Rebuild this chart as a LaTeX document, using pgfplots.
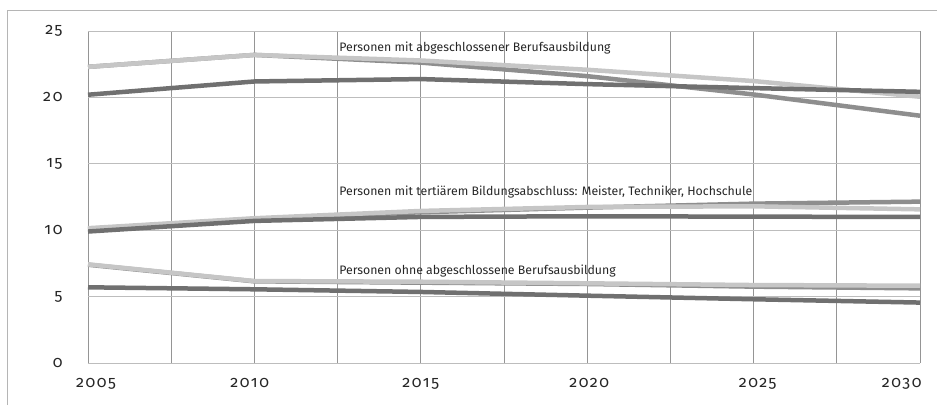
\documentclass[border=0pt]{standalone}
\usepackage{fontspec}
\setmainfont{Fira Sans}[Numbers=OldStyle]
\usepackage{pgfplots}
\pgfplotsset{compat=1.18}
\definecolor{cdark}{HTML}{707070}
\definecolor{cmed}{HTML}{8E8E8E}
\definecolor{clight}{HTML}{C6C6C6}
\definecolor{gridv}{HTML}{959595}
\definecolor{gridh}{HTML}{BDBDBD}
\definecolor{frame}{HTML}{B5B5B5}
\begin{document}
\begin{tikzpicture}
\useasboundingbox (0,0) rectangle (937pt,405pt);
\draw[frame, line width=1pt] (7pt,0pt) -- (7pt,394pt) -- (940pt,394pt);
\begin{axis}[
  at={(88pt,42pt)}, anchor=south west,
  scale only axis, width=832pt, height=332pt,
  xmin=2005, xmax=2030, ymin=0, ymax=25,
  axis line style={draw=none},
  xtick={2005.24,2009.86,2015,2020.06,2025.12,2029.45},
  xticklabels={2005,2010,2015,2020,2025,2030},
  minor xtick={2005,2007.5,...,2030},
  ytick={0,5,10,15,20,25},
  xmajorgrids=false, xminorgrids=true, ymajorgrids=true,
  minor grid style={gridv, line width=0.9pt},
  major grid style={gridh, line width=0.9pt},
  major tick length=0pt, minor tick length=0pt,
  tick style={draw=none},
  /pgf/number format/assume math mode=true,
  ticklabel style={font=\fontsize{16}{18}\selectfont\addfontfeature{LetterSpace=10}, text=black!85},
  xticklabel style={yshift=-12pt},
  yticklabel style={xshift=-22pt},
  clip=false,
]
% group 1: Personen mit abgeschlossener Berufsausbildung
\addplot[cmed, line width=4.5pt] coordinates {(2005,22.3) (2010,23.2) (2015,22.62) (2020,21.6) (2025,20.22) (2030,18.62)};
\addplot[clight, line width=4.5pt] coordinates {(2005,22.3) (2010,23.2) (2015,22.78) (2020,22.08) (2025,21.23) (2030,20.05)};
\addplot[cdark, line width=4.5pt] coordinates {(2005,20.2) (2010,21.2) (2015,21.38) (2020,21.0) (2025,20.7) (2030,20.42)};
% group 2: tertiaerer Bildungsabschluss
\addplot[cmed, line width=4.5pt] coordinates {(2005,10.1) (2010,10.85) (2015,11.35) (2020,11.7) (2025,12.0) (2030,12.15)};
\addplot[clight, line width=4.5pt] coordinates {(2005,10.15) (2010,10.9) (2015,11.45) (2020,11.75) (2025,11.8) (2030,11.57)};
\addplot[cdark, line width=4.5pt] coordinates {(2005,9.9) (2010,10.7) (2015,11.0) (2020,11.05) (2025,11.02) (2030,11.0)};
% group 3: ohne abgeschlossene Berufsausbildung
\addplot[cmed, line width=4.5pt] coordinates {(2005,7.4) (2010,6.15) (2015,6.05) (2020,5.95) (2025,5.75) (2030,5.62)};
\addplot[clight, line width=4.5pt] coordinates {(2005,7.43) (2010,6.17) (2015,6.12) (2020,6.0) (2025,5.87) (2030,5.82)};
\addplot[cdark, line width=4.5pt] coordinates {(2005,5.7) (2010,5.55) (2015,5.35) (2020,5.07) (2025,4.8) (2030,4.55)};
\node[anchor=base west, inner sep=1.5pt, font=\fontsize{12.3}{14}\selectfont, text=black!85] at (axis cs:2012.5,23.44) {Personen mit abgeschlossener Berufsausbildung};
\node[anchor=base west, inner sep=1.5pt, font=\fontsize{12.3}{14}\selectfont, text=black!85] at (axis cs:2012.5,12.6) {Personen mit tertiärem Bildungsabschluss: Meister, Techniker, Hochschule};
\node[anchor=base west, inner sep=1.5pt, font=\fontsize{12.3}{14}\selectfont, text=black!85] at (axis cs:2012.5,6.7) {Personen ohne abgeschlossene Berufsausbildung};
\end{axis}
\end{tikzpicture}
\end{document}
